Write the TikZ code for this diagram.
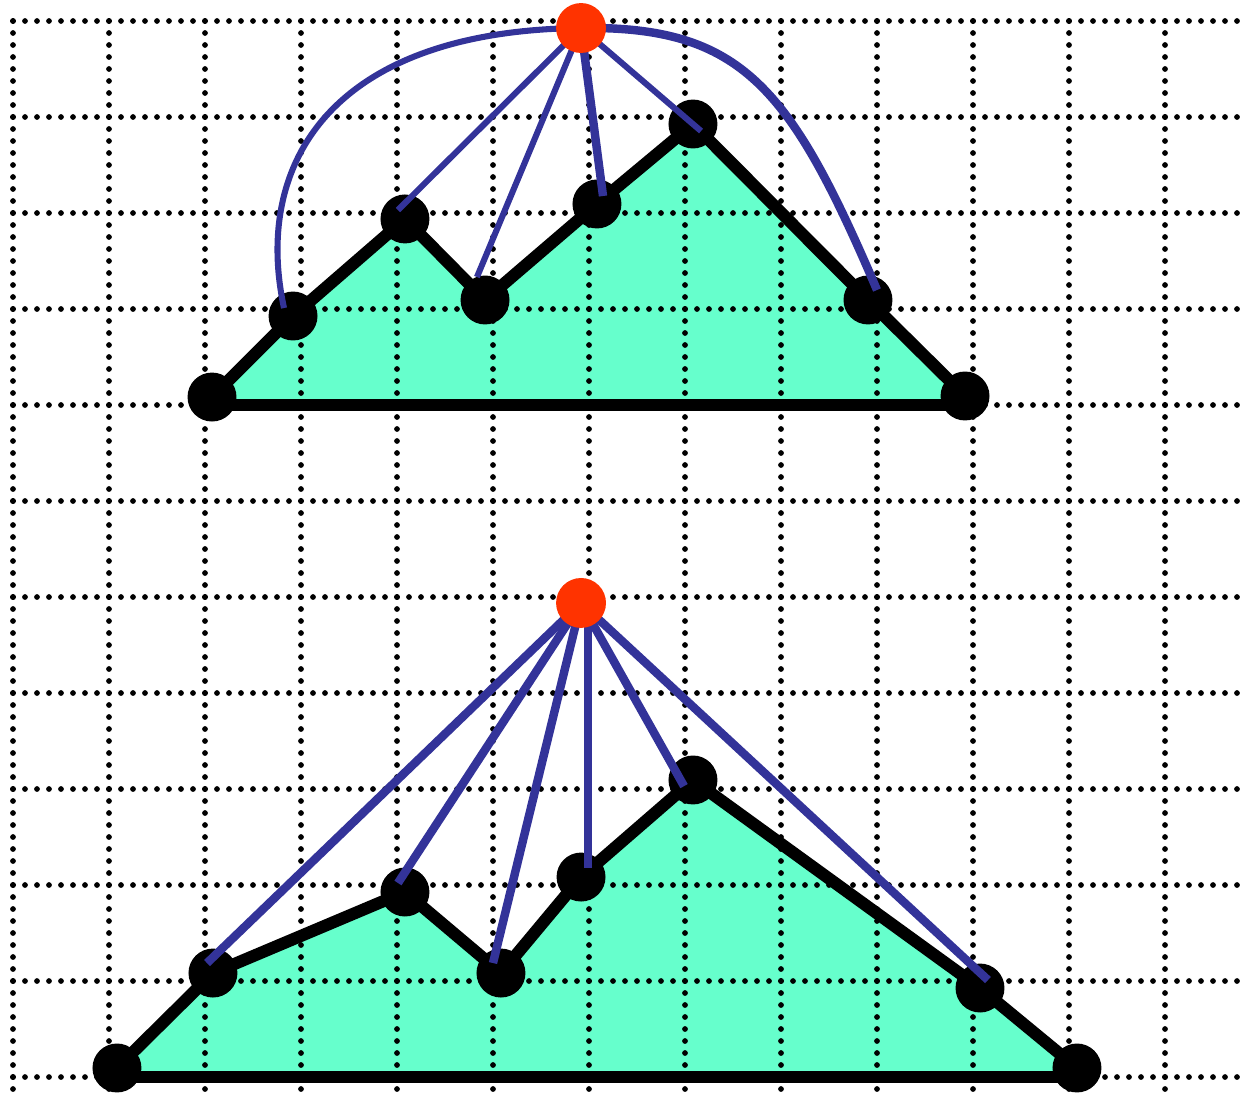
\documentclass[tikz,border=0pt]{standalone}
\usepackage{xcolor}
\usetikzlibrary{calc}
\definecolor{hullfill}{HTML}{66FFCC}
\definecolor{linkblue}{HTML}{333399}
\definecolor{apexred}{HTML}{FF3300}
\pgfdeclarelayer{back}
\pgfdeclarelayer{front}
\pgfsetlayers{back,main,front}

\begin{document}
\begin{tikzpicture}[
  x=1cm,
  y=1cm,
  gridline/.style={black, line width=1.7pt, line cap=round, dash pattern=on 0pt off 0.125cm},
  hulledge/.style={black, line width=3.6pt, line join=round},
  vertex/.style={circle, fill=black, inner sep=0pt, minimum size=0.51cm},
  apex/.style={circle, fill=apexred, inner sep=0pt, minimum size=0.52cm},
  thinlink/.style={linkblue, line width=1.8pt},
  thicklink/.style={linkblue, line width=2.5pt}
]
  \useasboundingbox (-0.1354,-0.2083) rectangle (12.9167,11.2188);

  % upper chain
  \node[vertex] (n1) at (2.073,7.083) {};
  \node[vertex] (n2) at (2.917,7.927) {};
  \node[vertex] (n3) at (4.083,8.938) {};
  \node[vertex] (n4) at (4.917,8.094) {};
  \node[vertex] (n5) at (6.083,9.094) {};
  \node[vertex] (n6) at (7.083,9.927) {};
  \node[vertex] (n7) at (8.906,8.094) {};
  \node[vertex] (n8) at (9.917,7.094) {};

  % lower chain
  \node[vertex] (m1) at (1.083,0.094) {};
  \node[vertex] (m2) at (2.083,1.083) {};
  \node[vertex] (m3) at (4.083,1.927) {};
  \node[vertex] (m4) at (5.083,1.083) {};
  \node[vertex] (m5) at (5.917,2.083) {};
  \node[vertex] (m6) at (7.083,3.094) {};
  \node[vertex] (m7) at (10.073,0.927) {};
  \node[vertex] (m8) at (11.083,0.094) {};

  \begin{pgfonlayer}{front}
    \node[apex] (r1) at (5.917,10.927) {};
    \node[apex] (r2) at (5.917,4.938) {};
  \end{pgfonlayer}

  \begin{pgfonlayer}{back}
    \fill[hullfill] (n1.center |- 0,7) -- (n1.center) -- (n2.center) -- (n3.center) -- (n4.center)
      -- (n5.center) -- (n6.center) -- (n7.center) -- (n8.center) -- (n8.center |- 0,7) -- cycle;
    \fill[hullfill] (m1.center |- 0,0) -- (m1.center) -- (m2.center) -- (m3.center) -- (m4.center)
      -- (m5.center) -- (m6.center) -- (m7.center) -- (m8.center) -- (m8.center |- 0,0) -- cycle;

    \foreach \y in {0,...,11}
      \draw[gridline] (0,\y) -- (12.77,\y);
    \foreach \x in {0,...,12}
      \draw[gridline] (\x,11) -- (\x,-0.3);

    \draw[hulledge] (n1.center) -- (n2.center) -- (n3.center) -- (n4.center)
      -- (n5.center) -- (n6.center) -- (n7.center) -- (n8.center);
    \draw[hulledge] (n1.center |- 0,7) -- (n8.center |- 0,7);
    \draw[hulledge] (m1.center) -- (m2.center) -- (m3.center) -- (m4.center)
      -- (m5.center) -- (m6.center) -- (m7.center) -- (m8.center);
    \draw[hulledge] (m1.center |- 0,0) -- (m8.center |- 0,0);
  \end{pgfonlayer}

  % links from the upper apex
  \draw[thinlink] (r1.center) .. controls (3.3,10.9) and (2.5,9.5) .. ($(n2)+(-0.094,0.083)$);
  \draw[thinlink] (r1.center) -- ($(n3)+(-0.073,0.093)$);
  \draw[thinlink] (r1.center) -- ($(n4)+(-0.084,0.239)$);
  \draw[thicklink] (r1.center) -- ($(n5)+(0.063,0.083)$);
  \draw[thinlink] (r1.center) -- ($(n6)+(0.084,-0.073)$);
  \draw[thicklink] (r1.center) .. controls (7.6,10.95) and (8.1,10.3) .. ($(n7)+(0.094,0.104)$);

  % links from the lower apex
  \draw[thicklink] (r2.center) -- ($(m2)+(-0.062,0.104)$);
  \draw[thicklink] (r2.center) -- ($(m3)+(-0.073,0.094)$);
  \draw[thicklink] (r2.center) -- ($(m4)+(-0.083,0.104)$);
  \draw[thicklink] ($(r2)+(0.073,0)$) -- ($(m5)+(0.073,0.094)$);
  \draw[thicklink] (r2.center) -- ($(m6)+(-0.093,-0.064)$);
  \draw[thicklink] (r2.center) -- ($(m7)+(0.083,0.083)$);
\end{tikzpicture}
\end{document}
